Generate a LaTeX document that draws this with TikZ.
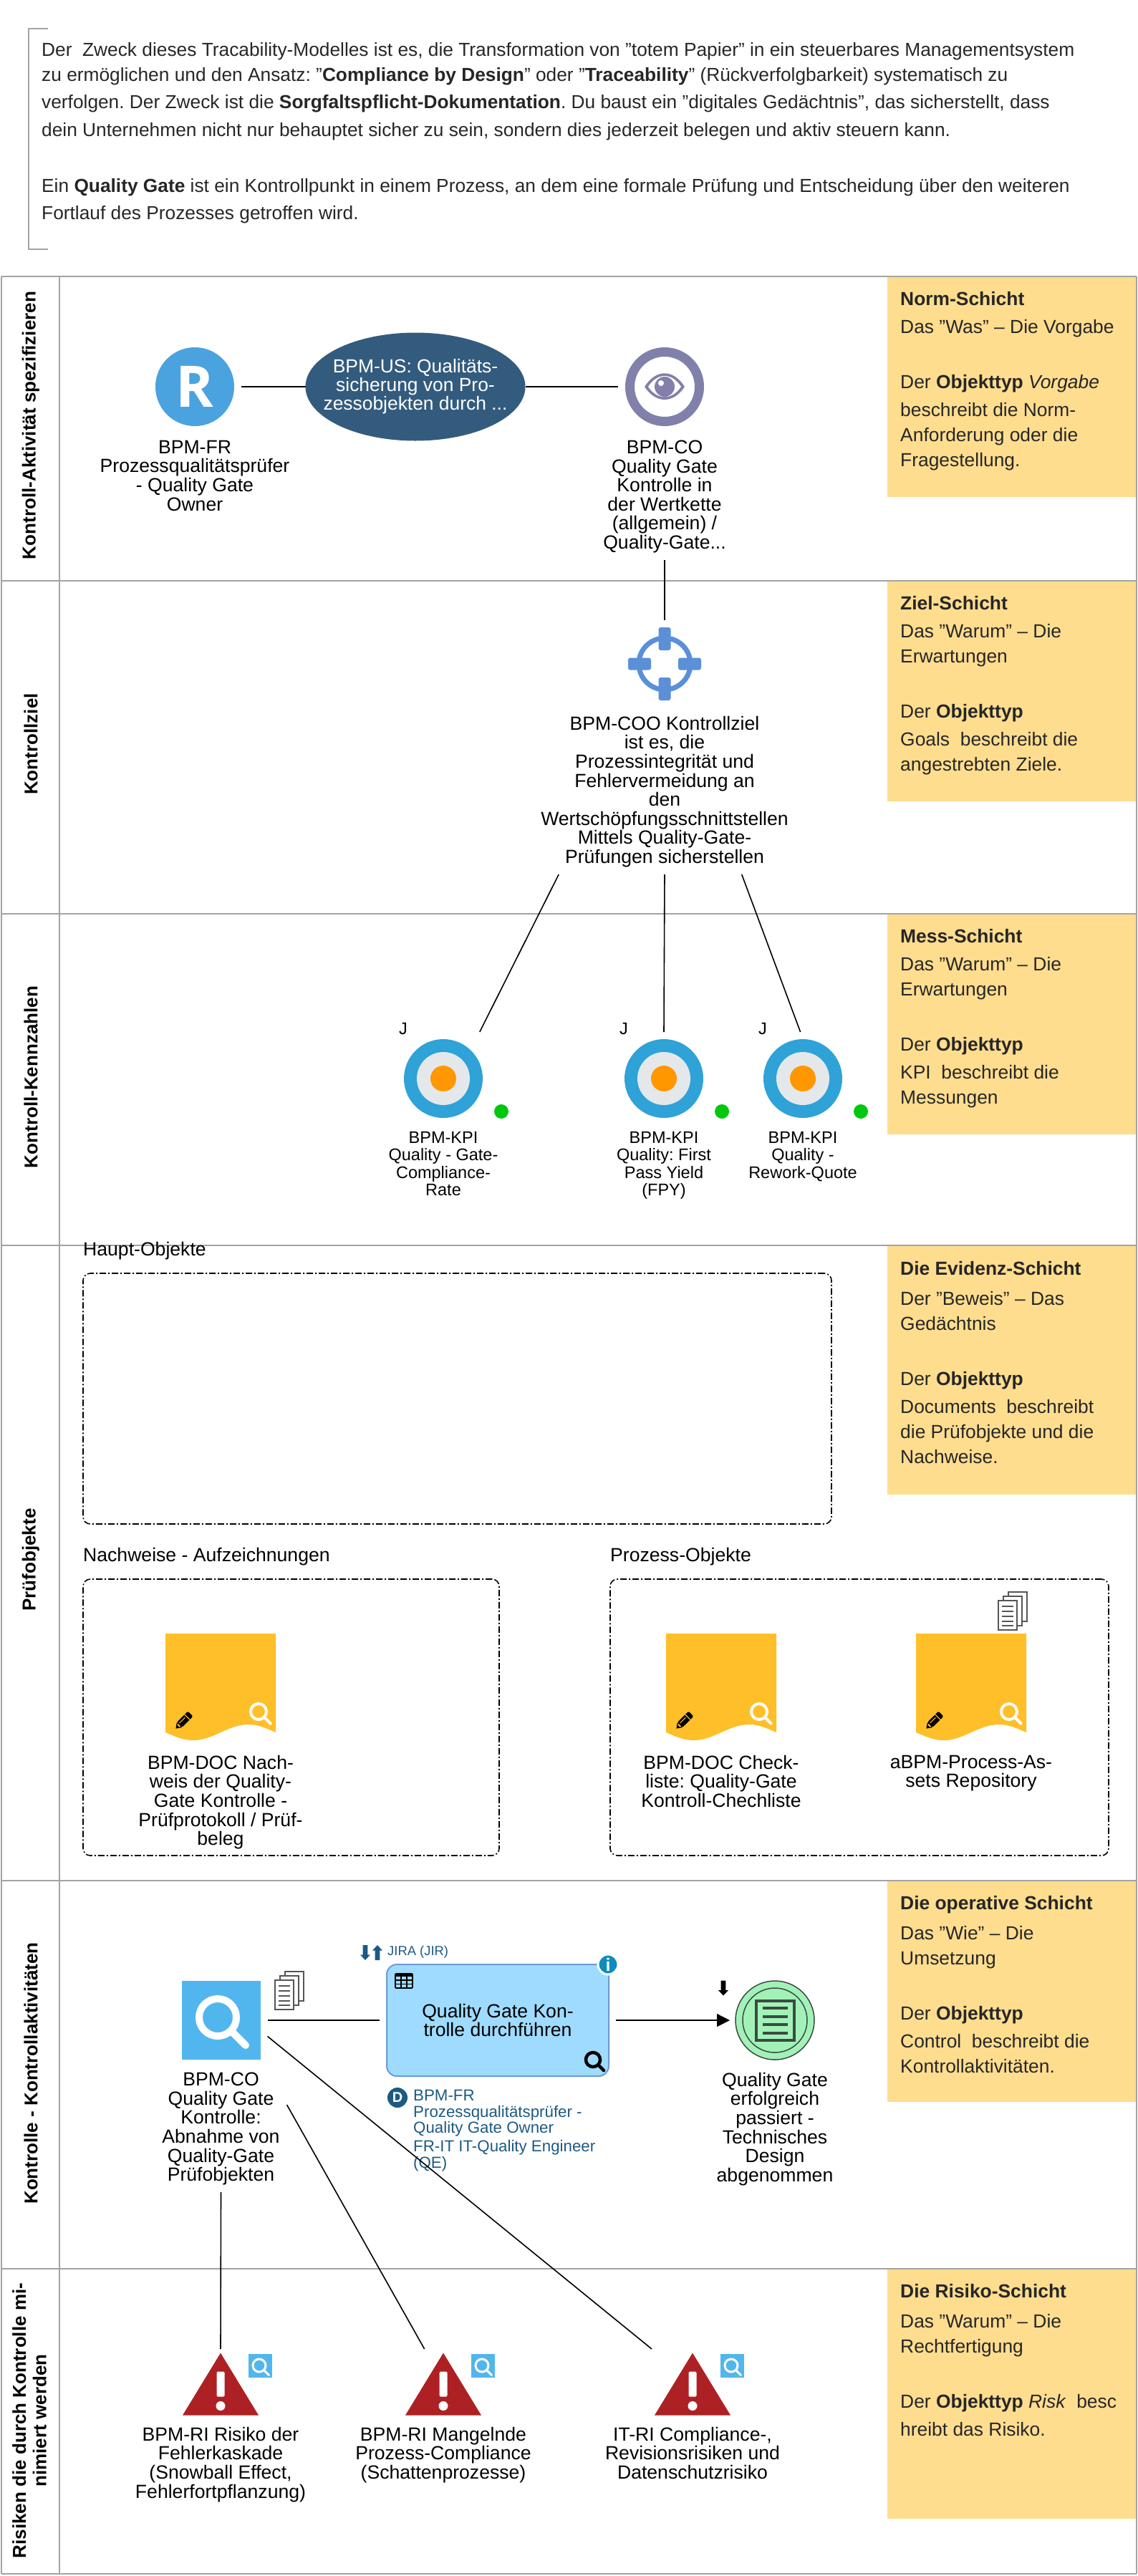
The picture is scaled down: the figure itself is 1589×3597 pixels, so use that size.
\documentclass[tikz,border=0pt]{standalone}
\usepackage{fontspec}
\setmainfont{Liberation Sans}
\newfontfamily\rollefont{Open Sans}
\frenchspacing
\usepackage{tikz}
\usetikzlibrary{positioning, arrows.meta, shapes.geometric, calc}
\definecolor{lanegrey}{HTML}{A3A3A3}
\definecolor{schichtgelb}{HTML}{FFDD8F}
\definecolor{rolleblau}{HTML}{4AA3DF}
\definecolor{usblau}{HTML}{335B7E}
\definecolor{augegrau}{HTML}{8080AA}
\definecolor{zielblau}{HTML}{5B8FD8}
\definecolor{kpiblau}{HTML}{2FA2D8}
\definecolor{kpigrau}{HTML}{E4E8EB}
\definecolor{kpiorange}{HTML}{FF9800}
\definecolor{ampelgruen}{HTML}{00C80F}
\definecolor{docgelb}{HTML}{FFBF28}
\definecolor{lupeblau}{HTML}{52B6EE}
\definecolor{funkblau}{HTML}{9EDBFF}
\definecolor{funkrand}{HTML}{6F9BD1}
\definecolor{infoblau}{HTML}{0E8BC0}
\definecolor{dunkelblau}{HTML}{1C5A82}
\definecolor{eventgruen}{HTML}{A2F2B8}
\definecolor{eventrand}{HTML}{3B4B42}
\definecolor{risikorot}{HTML}{AD2124}
\definecolor{stapelgrau}{HTML}{555555}
\newcommand{\Fett}[1]{\textbf{#1}}
\tikzset{
    lupe/.pic = {
    \draw[pic actions, line cap=round] (0,0) circle (10) (7.1,7.1) -- (15,15);
    },
    stapel/.pic = {
    \draw[stapelgrau, fill=white, line width=1.3pt] (14,0) rectangle (40,41);
    \draw[stapelgrau, fill=white, line width=1.3pt] (7,6) rectangle (33,47);
    \draw[stapelgrau, fill=white, line width=1.3pt] (0,12) rectangle (26,53);
    \foreach \z in {20,27,34,41,47}
        \draw[stapelgrau, line width=1.2pt] (5,\z) -- (21,\z);
    },
    stift/.pic = {
    \fill[black, rounded corners=1.5pt] (-8,-5) -- (14,-5) -- (14,5) -- (-8,5) -- cycle;
    \fill[black] (-8,-5) -- (-15,0) -- (-8,5) -- cycle;
    \fill[docgelb] (7,-5) rectangle (8.2,5);
    \fill[docgelb] (-6,-2.2) rectangle (5,-1.2);
    \fill[docgelb] (-10,-2.4) -- (-8,-2.4) -- (-8,2.4) -- (-10,2.4) -- cycle;
    },
    beleg/.pic = {
    \fill[docgelb] (-77,-74.5) -- (77,-74.5) -- (77,63.5)
        .. controls (62,57) and (52,52.5) .. (39,52.5)
        .. controls (10,52.5) and (-10,74.5) .. (-38,74.5)
        .. controls (-52,74.5) and (-62,70) .. (-77,63.5) -- cycle;
    \pic[draw=white, line width=4pt, scale=1.1] at (53,34.5) {lupe};
    \pic[rotate=45] at (-52,47.5) {stift};
    },
    zielscheibe/.pic = {
    \fill[kpiblau] (0,0) circle (55);
    \fill[kpigrau] (0,0) circle (37);
    \fill[kpiorange] (0,0) circle (18);
    },
    warnung/.pic = {
    \fill[risikorot] (0,-44) -- (53,43) -- (-53,43) -- cycle;
    \fill[white, rounded corners=1.5pt] (-5.5,-18) rectangle (5.5,17);
    \fill[white] (0,30) circle (6.5);
    },
    auge/.pic = {
    \fill[augegrau] (-28,0) .. controls (-12,-25) and (12,-25) .. (28,0)
        .. controls (12,24) and (-12,24) .. (-28,0) -- cycle;
    \fill[white] (-23,0) .. controls (-10,-20) and (10,-20) .. (23,0)
        .. controls (10,19) and (-10,19) .. (-23,0) -- cycle;
    \fill[augegrau] (0,0) circle (14);
    \fill[white] (-5,-5) circle (4);
    },
    fadenkreuz/.pic = {
    \foreach \w in {0,90,180,270}
        \fill[zielblau, rotate=\w, rounded corners=3pt] (-8.5,-51) rectangle (8.5,-19);
    },
    tabelle/.pic = {
    \draw[black, line width=1.6pt, rounded corners=1pt] (0,0) rectangle (24,20);
    \fill[black] (0,0) rectangle (24,4);
    \foreach \g in {8,16}
        \draw[black, line width=1.2pt] (\g,0) -- (\g,20);
    \foreach \g in {9,14.5}
        \draw[black, line width=1.2pt] (0,\g) -- (24,\g);
    },
    blockpfeil/.pic = {
    \fill[pic actions] (-3.3,-10.5) -- (3.3,-10.5) -- (3.3,3) -- (7,3)
        -- (0,10.5) -- (-7,3) -- (-3.3,3) -- cycle;
    },
    ereignis/.pic = {
    \draw[eventrand, line width=1.5pt] (0,0) circle (45);
    \draw[eventrand, line width=4pt] (-26,-27) rectangle (27,28);
    \foreach \z in {-17,-5,6,18}
        \draw[eventrand, line width=3.5pt] (-17,\z) -- (18,\z);
    },
    lanetitel/.style={rotate=90, align=center, font=\fontsize{26}{28.5}\selectfont\bfseries},
    lanebar/.style={lanegrey, line width=2.5pt},
    schicht/.style={rectangle, fill=schichtgelb, anchor=north west, minimum width=348pt, inner sep=0pt, outer sep=0pt},
    schichttext/.style={anchor=north west, align=left, inner xsep=18pt, inner ysep=21pt, text=black!85, font=\fontsize{26.4}{35}\selectfont},
    reglabel/.style={align=center, inner sep=0pt, outer sep=10pt, font=\fontsize{26.6}{26.6}\selectfont},
    kpilabel/.style={reglabel, font=\fontsize{23.5}{24.5}\selectfont},
    verbinder/.style={black, line width=1.6pt},
    symbol/.style={rectangle, minimum size=110pt, inner sep=0pt, outer sep=10pt},
    gruppe/.style={rectangle, draw=black, anchor=north west, line width=1.6pt, rounded corners=10pt, dash pattern=on 9pt off 3pt on 2pt off 3pt, inner sep=0pt, outer sep=0pt},
    gruppenname/.style={inner sep=0pt, font=\fontsize{26.6}{26.6}\selectfont},
}

\begin{document}
\begin{tikzpicture}[x=1pt, y=-1pt]
    \useasboundingbox (0,0) rectangle (1589,3597);

    \draw[lanegrey, line width=1.5pt] (67,40) -- (40,40) -- (40,348) -- (67,348);
    \node[anchor=north west, align=left, inner sep=0pt, text=black!85, font=\fontsize{26.3}{38.5}\selectfont] (zweck) at (58,59) {Der\ \ Zweck dieses Tracability-Modelles ist es, die Transformation von "totem Papier" in ein steuerbares Managementsystem\\[-3.5pt]
    zu ermöglichen und den Ansatz: "\Fett{Compliance by Design}" oder "\Fett{Traceability}" (Rückverfolgbarkeit) systematisch zu\\
    verfolgen. Der Zweck ist die \Fett{Sorgfaltspflicht-Dokumentation}. Du baust ein "digitales Gedächtnis", das sicherstellt, dass\\
    dein Unternehmen nicht nur behauptet sicher zu sein, sondern dies jederzeit belegen und aktiv steuern kann.\\[39.5pt]
    Ein \Fett{Quality Gate} ist ein Kontrollpunkt in einem Prozess, an dem eine formale Prüfung und Entscheidung über den weiteren\\
    Fortlauf des Prozesses getroffen wird.};

    \node[schicht, minimum height=308pt] (norm) at (1239,386) {};
    \node[schichttext] (normtext) at (norm.north west) {\Fett{Norm-Schicht}\\[4pt]
    Das "Was" – Die Vorgabe\\[42pt]
    Der \Fett{Objekttyp} \textit{Vorgabe}\\[4pt]
    beschreibt die Norm-\\
    Anforderung oder die\\
    Fragestellung.};
    \node[schicht, minimum height=308pt] (ziel) at (1239,811) {};
    \node[schichttext] (zieltext) at (ziel.north west) {\Fett{Ziel-Schicht}\\[4pt]
    Das "Warum" – Die\\
    Erwartungen\\[42pt]
    Der \Fett{Objekttyp}\\[4pt]
    Goals\ \ beschreibt die\\
    angestrebten Ziele.};
    \node[schicht, minimum height=308pt] (mess) at (1239,1276) {};
    \node[schichttext] (messtext) at (mess.north west) {\Fett{Mess-Schicht}\\[4pt]
    Das "Warum" – Die\\
    Erwartungen\\[42pt]
    Der \Fett{Objekttyp}\\[4pt]
    KPI\ \ beschreibt die\\
    Messungen};
    \node[schicht, minimum height=347pt] (evidenz) at (1239,1740) {};
    \node[schichttext] (evidenztext) at (evidenz.north west) {\Fett{Die Evidenz-Schicht}\\[7pt]
    Der "Beweis" – Das\\
    Gedächtnis\\[42pt]
    Der \Fett{Objekttyp}\\[4pt]
    Documents\ \ beschreibt\\
    die Prüfobjekte und die\\
    Nachweise.};
    \node[schicht, minimum height=309pt] (operativ) at (1239,2626) {};
    \node[schichttext] (operativtext) at (operativ.north west) {\Fett{Die operative Schicht}\\[7pt]
    Das "Wie" – Die\\
    Umsetzung\\[42pt]
    Der \Fett{Objekttyp}\\[4pt]
    Control\ \ beschreibt die\\
    Kontrollaktivitäten.};
    \node[schicht, minimum height=349pt] (risiko) at (1239,3168) {};
    \node[schichttext] (risikotext) at (risiko.north west) {\Fett{Die Risiko-Schicht}\\[7pt]
    Das "Warum" – Die\\
    Rechtfertigung\\[42pt]
    Der \Fett{Objekttyp} \textit{Risk}\ \ besc\\[4pt]
    hreibt das Risiko.};

    \foreach \y in {386,811,1276,1739,2626,3168,3594}
        \draw[lanebar] (2,\y) -- (1587,\y);
    \draw[lanegrey, line width=1.6pt] (2,386) -- (2,3594);
    \draw[lanegrey, line width=1.6pt] (83,386) -- (83,3594);
    \draw[lanegrey, line width=1.6pt] (1587,386) -- (1587,3594);

    \node[lanetitel] (lane1) at (43,594) {Kontroll-Aktivität spezifizieren};
    \node[lanetitel] (lane2) at (43,1039) {Kontrollziel};
    \node[lanetitel] (lane3) at (43,1504) {Kontroll-Kennzahlen};
    \node[lanetitel] (lane4) at (43,2178) {Prüfobjekte};
    \node[lanetitel] (lane5) at (43,2895) {Kontrolle - Kontrollaktivitäten};
    \node[lanetitel] (lane6) at (41,3380) {Risiken die durch Kontrolle mi-\\nimiert werden};

    \node[circle, minimum size=110pt, inner sep=0pt, outer sep=10pt, fill=rolleblau, text=white, font=\fontsize{80}{80}\rollefont\bfseries] (fr) at (272,540) {R};
    \node[ellipse, minimum width=307pt, minimum height=151pt, inner sep=-20pt, outer sep=0pt, fill=usblau, text=white, align=center, font=\fontsize{26.4}{26}\selectfont] (us) at (580,540) {BPM-US: Qualitäts-\\sicherung von Pro-\\zessobjekten durch ...};
    \node[circle, minimum size=97pt, inner sep=0pt, outer sep=16.5pt, draw=augegrau, line width=13pt] (co) at (928,540) {};
    \pic at (co) {auge};
    \node[reglabel, below=0pt of fr] (frlabel) {BPM-FR\\Prozessqualitätsprüfer\\- Quality Gate\\Owner};
    \node[reglabel, below=0pt of co] (colabel) {BPM-CO\\Quality Gate\\Kontrolle in\\der Wertkette\\(allgemein) /\\Quality-Gate...};
    \draw[verbinder] (fr) -- (us);
    \draw[verbinder] (us) -- (co);

    \node[circle, minimum size=72pt, inner sep=0pt, outer sep=25pt, draw=zielblau, line width=7pt] (coo) at (928,927) {};
    \pic at (coo) {fadenkreuz};
    \node[reglabel, below=2pt of coo] (coolabel) {BPM-COO Kontrollziel\\ist es, die\\Prozessintegrität und\\Fehlervermeidung an\\den\\Wertschöpfungsschnittstellen\\Mittels Quality-Gate-\\Prüfungen sicherstellen};
    \draw[verbinder] (colabel) -- (coo);

    \foreach \k/\x in {kpi1/619, kpi2/927, kpi3/1121} {
        \node[symbol] (\k) at (\x,1506) {};
        \pic at (\k) {zielscheibe};
        \node[circle, minimum size=20pt, inner sep=0pt, fill=ampelgruen] (\k ampel) at (\x+81,1552) {};
        \node[inner sep=0pt, font=\fontsize{23.5}{24.5}\selectfont] (\k j) at (\x-56,1437) {J};
    }
    \node[kpilabel, below=-1pt of kpi1] (kpi1label) {BPM-KPI\\Quality - Gate-\\Compliance-\\Rate};
    \node[kpilabel, below=-1pt of kpi2] (kpi2label) {BPM-KPI\\Quality: First\\Pass Yield\\(FPY)};
    \node[kpilabel, below=-1pt of kpi3] (kpi3label) {BPM-KPI\\Quality -\\Rework-Quote};
    \draw[verbinder] (coolabel.218) -- (kpi1.52);
    \draw[verbinder] (coolabel.south) -- (kpi2.north);
    \draw[verbinder] (coolabel.313) -- (kpi3.93);

    \node[gruppe, minimum width=1045pt, minimum height=350pt] (haupt) at (116,1778) {};
    \node[gruppe, minimum width=581pt, minimum height=386pt] (nachweise) at (116,2205) {};
    \node[gruppe, minimum width=696pt, minimum height=386pt] (prozess) at (852,2205) {};
    \node[gruppenname, above right=19pt and 0pt of haupt.north west] (hauptname) {Haupt-Objekte};
    \node[gruppenname, above right=19pt and 0pt of nachweise.north west] (nachweisename) {Nachweise - Aufzeichnungen};
    \node[gruppenname, above right=19pt and 0pt of prozess.north west] (prozessname) {Prozess-Objekte};

    \foreach \d/\x in {doc1/308, doc2/1007, doc3/1356} {
        \node[rectangle, minimum width=154pt, minimum height=149pt, inner sep=0pt, outer sep=0pt] (\d) at (\x,2355.5) {};
        \pic at (\d) {beleg};
    }
    \pic at (1394,2223) {stapel};
    \node[reglabel, below=11pt of doc1] (doc1label) {BPM-DOC Nach-\\weis der Quality-\\Gate Kontrolle -\\Prüfprotokoll / Prüf-\\beleg};
    \node[reglabel, below=11pt of doc2] (doc2label) {BPM-DOC Check-\\liste: Quality-Gate\\Kontroll-Chechliste};
    \node[reglabel, below=11pt of doc3] (doc3label) {aBPM-Process-As-\\sets Repository};

    \node[symbol, fill=lupeblau] (kontrolle) at (308.5,2821) {};
    \pic[draw=white, line width=10pt, scale=2.6] at (304,2817) {lupe};
    \pic at (384,2753) {stapel};
    \node[reglabel, below=-2pt of kontrolle] (kontrollelabel) {BPM-CO\\Quality Gate\\Kontrolle:\\Abnahme von\\Quality-Gate\\Prüfobjekten};

    \node[rectangle, rounded corners=14pt, minimum width=310pt, minimum height=156pt, inner sep=0pt, outer sep=10pt, draw=funkrand, line width=2pt, fill=funkblau, align=center, font=\fontsize{26.6}{26.6}\selectfont] (funktion) at (695,2821) {Quality Gate Kon-\\trolle durchführen};
    \pic at (552,2756) {tabelle};
    \pic[draw=black, line width=4.5pt] at (828,2876) {lupe};
    \node[circle, minimum size=28pt, inner sep=0pt, draw=white, line width=3pt, fill=infoblau, text=white, font=\fontsize{25}{25}\selectfont\bfseries] (info) at (849,2743) {i};
    \node[inner sep=0pt, anchor=west, text=dunkelblau, font=\fontsize{18.4}{20}\selectfont] (jira) at (541,2726) {JIRA (JIR)};
    \pic[fill=dunkelblau] at (510,2726.5) {blockpfeil};
    \pic[fill=dunkelblau, rotate=180] at (527,2726.5) {blockpfeil};
    \node[circle, minimum size=28pt, inner sep=0pt, fill=dunkelblau, text=white, font=\fontsize{20}{20}\selectfont\bfseries] (dsymbol) at (555,2929) {D};
    \node[anchor=north west, align=left, inner sep=0pt, text=dunkelblau, font=\fontsize{22.3}{22.6}\selectfont] (dtext) at (577,2918) {BPM-FR\\Prozessqualitätsprüfer -\\Quality Gate Owner\\[3.5pt]FR-IT IT-Quality Engineer\\(QE)};

    \node[circle, minimum size=110pt, inner sep=0pt, outer sep=8pt, draw=eventrand, line width=1.5pt, fill=eventgruen] (event) at (1082,2821) {};
    \pic at (event) {ereignis};
    \pic[fill=black] at (1010,2776) {blockpfeil};
    \node[reglabel, below=0pt of event] (eventlabel) {Quality Gate\\erfolgreich\\passiert -\\Technisches\\Design\\abgenommen};
    \draw[verbinder] (kontrolle) -- (funktion);
    \draw[verbinder, -{Triangle[length=18pt, width=18pt]}] (funktion) -- (event);

    \foreach \r/\x in {risk1/308, risk2/619, risk3/967} {
        \node[rectangle, minimum width=106pt, minimum height=87pt, inner sep=0pt, outer sep=6pt] (\r) at (\x,3329.5) {};
        \pic at (\r) {warnung};
        \node[rectangle, minimum size=33pt, inner sep=0pt, fill=lupeblau] (\r lupe) at (\x+55.5,3303) {};
        \pic[draw=white, line width=3pt, scale=.9] at (\x+54,3303) {lupe};
    }
    \node[reglabel, below=0pt of risk1] (risk1label) {BPM-RI Risiko der\\Fehlerkaskade\\(Snowball Effect,\\Fehlerfortpflanzung)};
    \node[reglabel, below=0pt of risk2] (risk2label) {BPM-RI Mangelnde\\Prozess-Compliance\\(Schattenprozesse)};
    \node[reglabel, below=0pt of risk3] (risk3label) {IT-RI Compliance-,\\Revisionsrisiken und\\Datenschutzrisiko};
    \draw[verbinder] (kontrollelabel.south) -- (risk1.north);
    \draw[verbinder] (kontrollelabel.20) -- (risk2.118);
    \draw[verbinder] (kontrolle.-19) -- (risk3.139);
\end{tikzpicture}
\end{document}
